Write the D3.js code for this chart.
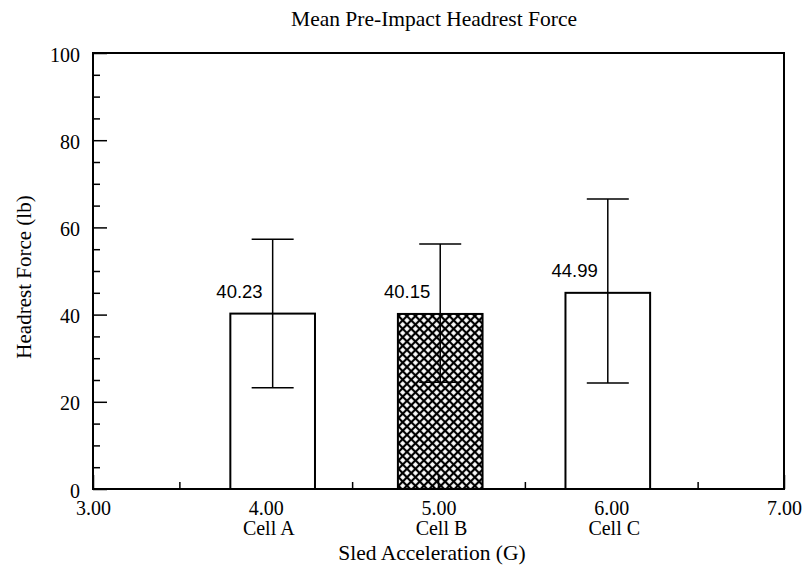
<!DOCTYPE html>
<html>
<head>
<meta charset="utf-8">
<script src="https://cdn.jsdelivr.net/npm/d3@7"></script>
<style>
	body { margin: 0; background: #fff; }
	svg { display: block; }
	.serif { font-family: "Liberation Serif", "Times New Roman", serif; fill: #000; }
	.lbl { font-family: "Liberation Sans", Arial, sans-serif; font-size: 18.5px; fill: #000; }
</style>
</head>
<body>
<svg width="803" height="575"></svg>
<script>
/*
	data
	scales
	hatch pattern
	axes + frame
	bars, error bars, labels
*/

var cells = ["Cell A", "Cell B", "Cell C"];
var barPos = [4.04, 5.01, 5.98];
var means = [40.23, 40.15, 44.99];
var errLow = [23.2, 24.5, 24.3];
var errHigh = [57.3, 56.2, 66.5];
var hatched = [false, true, false];
var xTicks = [3, 4, 5, 6, 7];
var xMinor = [3.5, 4.5, 5.5, 6.5];
var yTicks = [0, 20, 40, 60, 80, 100];
var yMinor = d3.range(0, 101, 5).filter(function(v) { return v % 20 != 0; });

var svg = d3.select("svg"),
		margin = {top: 53, right: 19, bottom: 86, left: 93},
		width = svg.attr("width") - margin.left - margin.right,
		height = svg.attr("height") - margin.top - margin.bottom,
		chartGroup = svg.append("g").attr("transform", "translate(" + margin.left + "," + margin.top + ")");

var xScale = d3.scaleLinear().domain([3, 7]).range([0, width]);
var yScale = d3.scaleLinear().domain([0, 100]).range([height, 0]);
var barW = 0.49;
var capW = 42;

var data = means.map(function(m, i) {
	return {cell: cells[i], x: barPos[i], mean: m, lo: errLow[i], hi: errHigh[i], hatch: hatched[i]};
});

// crosshatch, drawn as a rotated grid
var pat = svg.append("defs").append("pattern")
		.attr("id", "xhatch")
		.attr("patternUnits", "userSpaceOnUse")
		.attr("width", 6)
		.attr("height", 6)
		.attr("patternTransform", "rotate(45)");
pat.append("rect").attr("width", 6).attr("height", 6).attr("fill", "#000");
pat.append("rect").attr("x", 1.1).attr("y", 1.1).attr("width", 3.8).attr("height", 3.8).attr("fill", "#fff");

// title
svg.append("text")
	.attr("class", "serif")
	.attr("x", 434)
	.attr("y", 26)
	.attr("text-anchor", "middle")
	.style("font-size", "21.5px")
	.text("Mean Pre-Impact Headrest Force");

// ticks (inward)
chartGroup.append("g")
	.attr("class", "axis axis--x")
	.attr("transform", "translate(0," + height + ")")
	.call(d3.axisBottom(xScale).tickValues(xTicks).tickSizeInner(-14).tickSizeOuter(0)
		.tickFormat(function(d) { return d3.format(".2f")(d); }))
	.call(function(g) {
		g.select(".domain").remove();
		g.selectAll("line").attr("stroke", "#000").attr("stroke-width", 1.5);
		g.selectAll("text").attr("class", "serif").attr("y", 26).attr("dy", 0)
			.style("font-size", "20px").style("font-family", null);
	});

chartGroup.append("g")
	.attr("transform", "translate(0," + height + ")")
	.call(d3.axisBottom(xScale).tickValues(xMinor).tickSizeInner(-7).tickSizeOuter(0).tickFormat(""))
	.call(function(g) {
		g.select(".domain").remove();
		g.selectAll("line").attr("stroke", "#000").attr("stroke-width", 1.5);
	});

chartGroup.append("g")
	.attr("class", "axis axis--y")
	.call(d3.axisLeft(yScale).tickValues(yTicks).tickSizeInner(-14).tickSizeOuter(0).tickPadding(13))
	.call(function(g) {
		g.select(".domain").remove();
		g.selectAll("line").attr("stroke", "#000").attr("stroke-width", 1.5);
		g.selectAll("text").attr("class", "serif").attr("dy", "0.4em")
			.style("font-size", "20px").style("font-family", null);
	});

chartGroup.append("g")
	.call(d3.axisLeft(yScale).tickValues(yMinor).tickSizeInner(-7).tickSizeOuter(0).tickFormat(""))
	.call(function(g) {
		g.select(".domain").remove();
		g.selectAll("line").attr("stroke", "#000").attr("stroke-width", 1.5);
	});

// cell names under the tick labels
chartGroup.selectAll(".cellname")
	.data(data)
	.enter().append("text")
	.attr("class", "serif cellname")
	.attr("x", function(d) { return xScale(Math.round(d.x)) + 3; })
	.attr("y", height + 46)
	.attr("text-anchor", "middle")
	.style("font-size", "20px")
	.text(function(d) { return d.cell; });

// bars
var bar = chartGroup.selectAll(".bar")
	.data(data)
	.enter().append("g")
	.attr("class", "bar");

bar.append("rect")
	.attr("x", function(d) { return xScale(d.x - barW / 2); })
	.attr("y", function(d) { return yScale(d.mean); })
	.attr("width", function(d) { return xScale(d.x + barW / 2) - xScale(d.x - barW / 2); })
	.attr("height", function(d) { return yScale(0) - yScale(d.mean); })
	.attr("fill", function(d) { return d.hatch ? "url(#xhatch)" : "#fff"; })
	.attr("stroke", "#000")
	.attr("stroke-width", 2);

// tick at 5.00 shows through the hatch; redraw it inside hatched bars
bar.filter(function(d) { return d.hatch; }).append("line")
	.attr("x1", function(d) { return xScale(Math.round(d.x)); })
	.attr("x2", function(d) { return xScale(Math.round(d.x)); })
	.attr("y1", height)
	.attr("y2", height - 14)
	.attr("stroke", "#000")
	.attr("stroke-width", 1.5);

// error bars
bar.append("line")
	.attr("x1", function(d) { return xScale(d.x); })
	.attr("x2", function(d) { return xScale(d.x); })
	.attr("y1", function(d) { return yScale(d.lo); })
	.attr("y2", function(d) { return yScale(d.hi); })
	.attr("stroke", "#000")
	.attr("stroke-width", 1.5);

["lo", "hi"].forEach(function(k) {
	bar.append("line")
		.attr("x1", function(d) { return xScale(d.x) - capW / 2; })
		.attr("x2", function(d) { return xScale(d.x) + capW / 2; })
		.attr("y1", function(d) { return yScale(d[k]); })
		.attr("y2", function(d) { return yScale(d[k]); })
		.attr("stroke", "#000")
		.attr("stroke-width", 1.5);
});

bar.append("text")
	.attr("class", "lbl")
	.attr("x", function(d) { return xScale(d.x) - 10; })
	.attr("y", function(d) { return yScale(d.mean) - 16; })
	.attr("text-anchor", "end")
	.text(function(d) { return d.mean.toFixed(2); });

// frame
chartGroup.append("rect")
	.attr("width", width)
	.attr("height", height)
	.attr("fill", "none")
	.attr("stroke", "#000")
	.attr("stroke-width", 2);

// axis titles
svg.append("text")
	.attr("class", "serif")
	.attr("transform", "translate(31," + (margin.top + height / 2 + 6) + ") rotate(-90)")
	.attr("text-anchor", "middle")
	.style("font-size", "21px")
	.text("Headrest Force (lb)");

svg.append("text")
	.attr("class", "serif")
	.attr("x", 432)
	.attr("y", 560)
	.attr("text-anchor", "middle")
	.style("font-size", "21.5px")
	.text("Sled Acceleration (G)");
</script>
</body>
</html>
